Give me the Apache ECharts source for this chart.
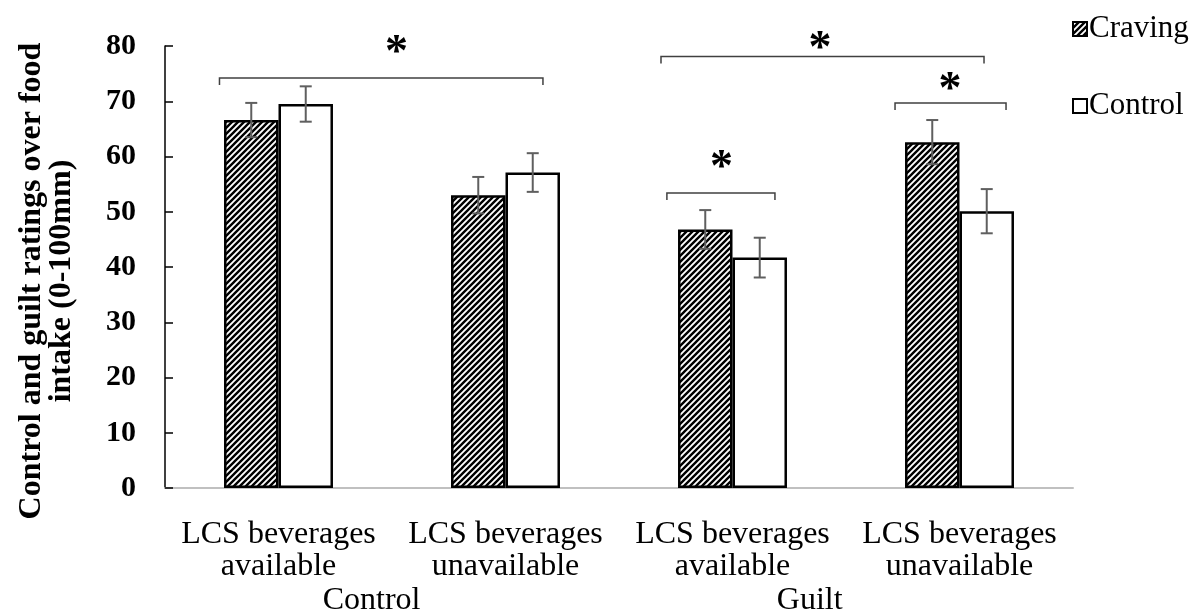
<!DOCTYPE html>
<html><head><meta charset="utf-8">
<script src="https://cdn.jsdelivr.net/npm/echarts@6/dist/echarts.min.js"></script>
<style>html,body{margin:0;padding:0;background:#fff}#c{width:1199px;height:616px}</style>
</head><body><div id="c"></div>
<script>
const categories = ['LCS beverages\navailable','LCS beverages\nunavailable','LCS beverages\navailable','LCS beverages\nunavailable'];
const seriesNames = ['Craving','Control'];
const cravingValues = [66.6, 53.0, 46.8, 62.6];
const controlValues = [69.5, 57.1, 41.7, 50.1];
const cravingErrors = [3.1, 3.3, 3.5, 4.0];
const controlErrors = [3.2, 3.5, 3.6, 4.0];
const yTicks = [0, 10, 20, 30, 40, 50, 60, 70, 80];
const groupLabels = ['Control', 'Guilt'];
const groupLabelPos = [0.41, 2.34];
// brackets: [xStart, xEnd, yLine, starX, starY]
const brackets = [
  [-0.26, 1.165, 74.2, 0.52, 78.6],
  [1.685, 3.108, 78.1, 2.385, 79.2],
  [1.711, 2.187, 53.4, 1.952, 57.8],
  [2.716, 3.205, 69.7, 2.958, 71.9]
];

const SERIF = '"Liberation Serif","Times New Roman",serif';

function hatch() {
  const s = 6, cv = document.createElement('canvas');
  cv.width = s; cv.height = s;
  const g = cv.getContext('2d');
  g.fillStyle = '#fff'; g.fillRect(0,0,s,s);
  g.strokeStyle = '#000'; g.lineWidth = 2.4;
  g.beginPath();
  g.moveTo(-1, s+1); g.lineTo(s+1, -1);
  g.moveTo(-1, 1); g.lineTo(1, -1);
  g.moveTo(s-1, s+1); g.lineTo(s+1, s-1);
  g.stroke();
  return cv;
}
const hatchFill = {image: hatch(), repeat: 'repeat'};

const errData = [];
cravingValues.forEach((v,i)=>errData.push([i,0,v,cravingErrors[i]]));
controlValues.forEach((v,i)=>errData.push([i,1,v,controlErrors[i]]));

const chart = echarts.init(document.getElementById('c'));
chart.setOption({
  animation: false,
  grid: {left: 165, right: 126, top: 46, bottom: 128},
  legend: {
    orient: 'vertical', left: 1067, top: 7, itemGap: 43,
    itemWidth: 14, itemHeight: 14, icon: 'rect',
    data: seriesNames,
    itemStyle: {borderColor: '#000', borderWidth: 2},
    textStyle: {fontFamily: SERIF, fontSize: 31, color: '#000', lineHeight: 34, padding: [0,0,0,-3]}
  },
  xAxis: [{
    type: 'category', data: categories,
    axisLine: {lineStyle: {color: '#c0c0c0', width: 2}},
    axisTick: {show: false},
    axisLabel: {fontFamily: SERIF, fontSize: 32, color: '#000', lineHeight: 32, margin: 31, interval: 0}
  }, {
    type: 'value', min: -0.5, max: 3.5, show: false
  }],
  yAxis: {
    type: 'value', min: yTicks[0], max: yTicks[yTicks.length-1], interval: 10,
    splitLine: {show: false},
    axisLine: {show: true, onZero: false, lineStyle: {color: '#000', width: 1.5}},
    axisTick: {show: true, inside: true, length: 8, lineStyle: {color: '#000', width: 1.5}},
    axisLabel: {fontFamily: SERIF, fontSize: 30, fontWeight: 'bold', color: '#000', margin: 29},
    name: 'Control and guilt ratings over food\nintake (0-100mm)',
    nameLocation: 'middle', nameGap: 88, nameRotate: 90,
    nameTextStyle: {fontFamily: SERIF, fontSize: 32, fontWeight: 'bold', color: '#000', lineHeight: 30, padding: [0, 28, 0, 0]}
  },
  series: [
    {name: 'Craving', type: 'bar', data: cravingValues, barGap: 0, barCategoryGap: '52%',
     itemStyle: {color: hatchFill, borderColor: '#000', borderWidth: 2.5}},
    {name: 'Control', type: 'bar', data: controlValues,
     itemStyle: {color: '#fff', borderColor: '#000', borderWidth: 2.5}},
    {type: 'custom', xAxisIndex: 0, data: errData, z: 10,
     renderItem: function(params, api){
       const c = api.value(0), s = api.value(1), v = api.value(2), e = api.value(3);
       const bw = api.size([1,0])[0] * 0.48 / 2;
       const top = api.coord([c, v+e]), bot = api.coord([c, v-e]);
       const x = top[0] + (s === 0 ? -bw/2 : bw/2);
       const cap = 6;
       const st = {stroke: '#5f5f5f', lineWidth: 2};
       return {type: 'group', children: [
         {type: 'line', shape: {x1: x, y1: top[1], x2: x, y2: bot[1]}, style: st},
         {type: 'line', shape: {x1: x-cap, y1: top[1], x2: x+cap, y2: top[1]}, style: st},
         {type: 'line', shape: {x1: x-cap, y1: bot[1], x2: x+cap, y2: bot[1]}, style: st}
       ]};
     }},
    {type: 'custom', xAxisIndex: 1, data: brackets, z: 10, clip: false,
     renderItem: function(params, api){
       const a = api.coord([api.value(0), api.value(2)]);
       const b = api.coord([api.value(1), api.value(2)]);
       const s = api.coord([api.value(3), api.value(4)]);
       return {type: 'group', children: [
         {type: 'polyline', shape: {points: [[a[0], a[1]+7],[a[0],a[1]],[b[0],b[1]],[b[0],b[1]+7]]},
          style: {stroke: '#404040', lineWidth: 1.5, fill: null}},
         {type: 'text', x: s[0], y: s[1], style: {text: '*', fontFamily: SERIF, fontWeight: 'bold', fontSize: 46,
          fill: '#000', align: 'center', verticalAlign: 'middle'}}
       ]};
     }},
    {type: 'custom', xAxisIndex: 1, data: groupLabelPos.map((p,i)=>[p, groupLabels[i]]), clip: false,
     renderItem: function(params, api){
       const p = api.coord([api.value(0), 0]);
       return {type: 'text', x: p[0], y: p[1] + 113, style: {text: groupLabels[params.dataIndex], fontFamily: SERIF,
         fontSize: 32, fill: '#000', align: 'center', verticalAlign: 'middle'}};
     }}
  ]
});
</script></body></html>
